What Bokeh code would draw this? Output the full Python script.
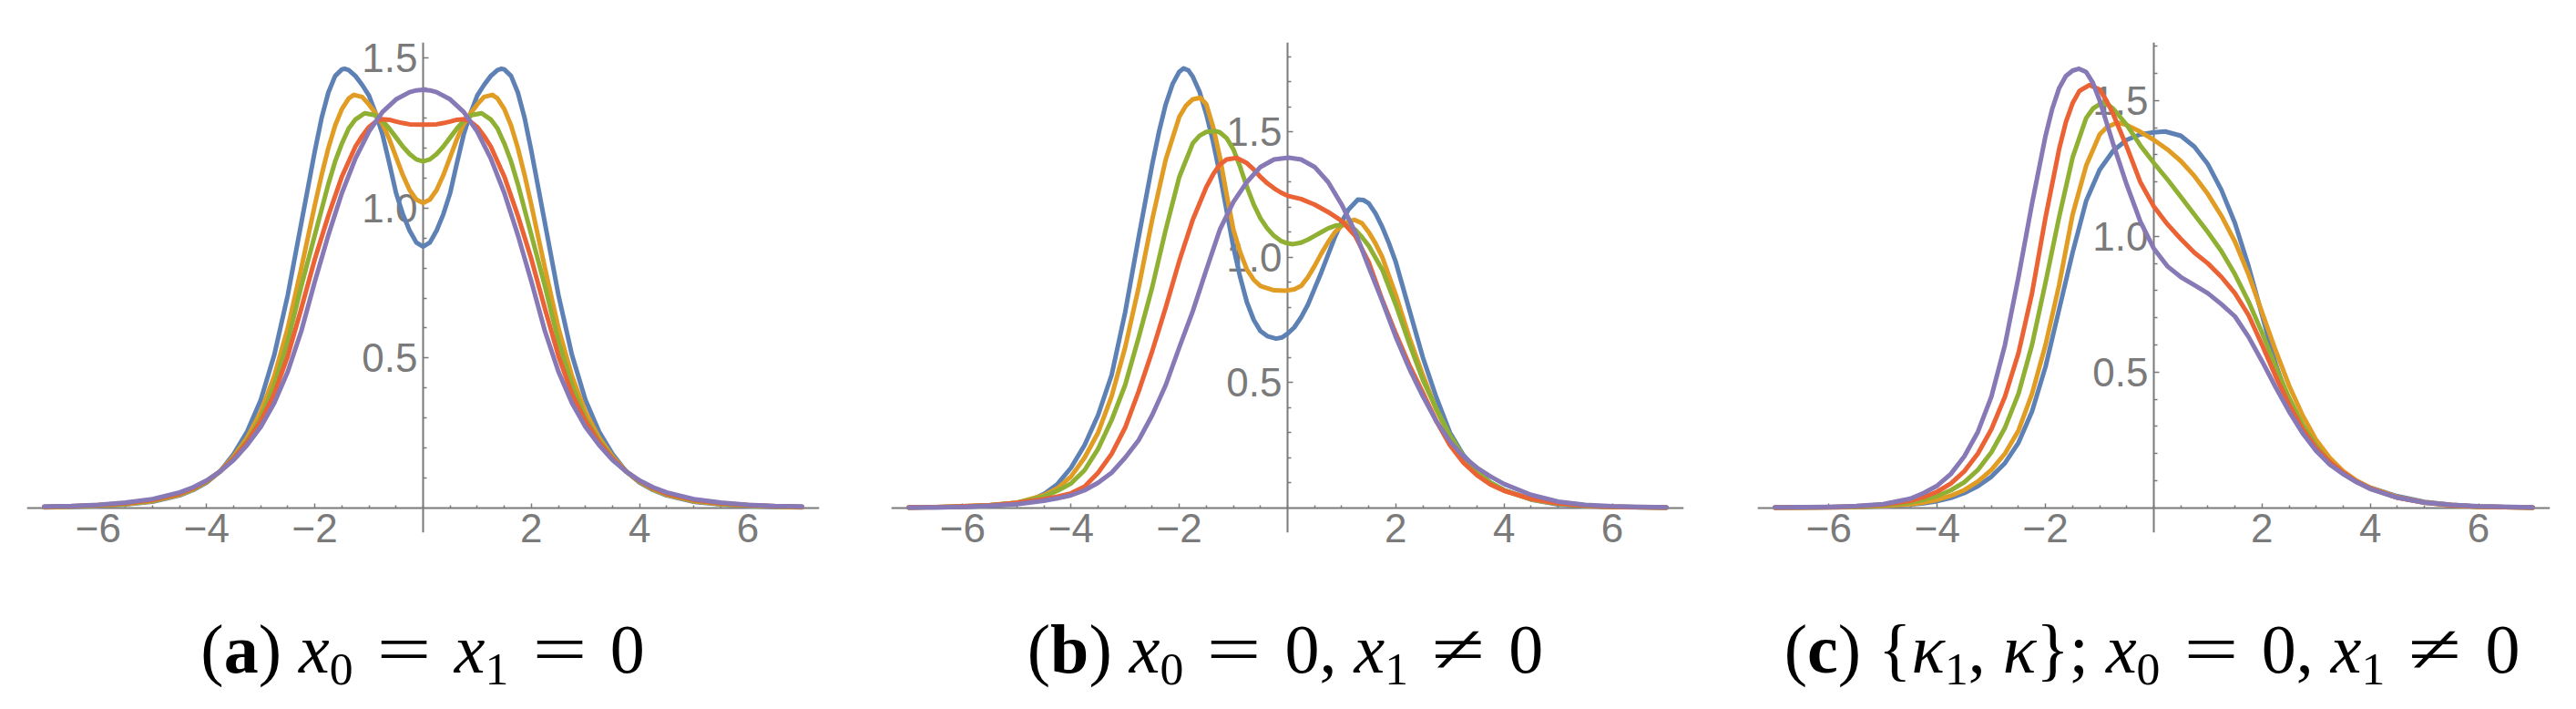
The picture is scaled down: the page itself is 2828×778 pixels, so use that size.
from bokeh.plotting import figure
from bokeh.models import Range1d, FixedTicker, Div, LinearAxis
from bokeh.layouts import row, column
from bokeh.embed import file_html
from bokeh.resources import INLINE

# ---------------- data ----------------
COLORS = ["#5E81B5", "#E19C24", "#8FB032", "#EB6235", "#8778B6"]

X_TICKS = [-6, -4, -2, 2, 4, 6]
X_TICK_LABELS = ["\u22126", "\u22124", "\u22122", "2", "4", "6"]
X_MINOR = [-7, -6.5, -5.5, -5, -4.5, -3.5, -3, -2.5, -1.5, -1, -0.5, 0,
           0.5, 1, 1.5, 2.5, 3, 3.5, 4.5, 5, 5.5, 6.5, 7]
Y_TICKS = [0.5, 1.0, 1.5]
Y_TICK_LABELS = ["0.5", "1.0", "1.5"]
Y_MINOR_A = [0.1, 0.2, 0.3, 0.4, 0.6, 0.7, 0.8, 0.9, 1.1, 1.2, 1.3, 1.4]
Y_MINOR_B = [0.1, 0.2, 0.3, 0.4, 0.6, 0.7, 0.8, 0.9, 1.1, 1.2, 1.3, 1.4, 1.6, 1.7, 1.8]
Y_MINOR_C = [0.1, 0.2, 0.3, 0.4, 0.6, 0.7, 0.8, 0.9, 1.1, 1.2, 1.3, 1.4, 1.6, 1.7]

# panel (a): x0 = x1 = 0  (symmetric curves)
A_BLUE = [(-7, 0.002), (-6.5, 0.004), (-6, 0.007), (-5.5, 0.012), (-5, 0.021), (-4.5, 0.042),
          (-4.25, 0.06), (-4, 0.085), (-3.75, 0.122), (-3.5, 0.18), (-3.25, 0.255), (-3, 0.36),
          (-2.75, 0.51), (-2.5, 0.71), (-2.25, 0.95), (-2, 1.19), (-1.875, 1.3), (-1.75, 1.385),
          (-1.625, 1.44), (-1.5, 1.462), (-1.45, 1.464), (-1.375, 1.46), (-1.25, 1.44),
          (-1.125, 1.41), (-1, 1.375), (-0.875, 1.315), (-0.75, 1.245), (-0.625, 1.15),
          (-0.5, 1.05), (-0.375, 0.98), (-0.25, 0.925), (-0.125, 0.885), (0, 0.871),
          (0.125, 0.885), (0.25, 0.925), (0.375, 0.98), (0.5, 1.05), (0.625, 1.15),
          (0.75, 1.245), (0.875, 1.315), (1, 1.375), (1.125, 1.41), (1.25, 1.44), (1.375, 1.46),
          (1.45, 1.464), (1.5, 1.462), (1.625, 1.44), (1.75, 1.385), (1.875, 1.3), (2, 1.19),
          (2.25, 0.95), (2.5, 0.71), (2.75, 0.51), (3, 0.36), (3.25, 0.255), (3.5, 0.18),
          (3.75, 0.122), (4, 0.085), (4.25, 0.06), (4.5, 0.042), (5, 0.021), (5.5, 0.012),
          (6, 0.007), (6.5, 0.004), (7, 0.002)]
A_ORANGE = [(-7, 0.003), (-6.5, 0.005), (-6, 0.008), (-5.5, 0.013), (-5, 0.023), (-4.5, 0.044),
            (-4.25, 0.062), (-4, 0.087), (-3.75, 0.122), (-3.5, 0.172), (-3.25, 0.235), (-3, 0.32),
            (-2.75, 0.44), (-2.5, 0.6), (-2.25, 0.8), (-2, 1.01), (-1.875, 1.11), (-1.75, 1.2),
            (-1.625, 1.275), (-1.5, 1.33), (-1.375, 1.365), (-1.28, 1.377), (-1.125, 1.37),
            (-1, 1.345), (-0.875, 1.315), (-0.75, 1.28), (-0.625, 1.23), (-0.5, 1.17),
            (-0.375, 1.11), (-0.25, 1.06), (-0.125, 1.028), (0, 1.017), (0.125, 1.028),
            (0.25, 1.06), (0.375, 1.11), (0.5, 1.17), (0.625, 1.23), (0.75, 1.28), (0.875, 1.315),
            (1, 1.345), (1.125, 1.37), (1.28, 1.377), (1.375, 1.365), (1.5, 1.33), (1.625, 1.275),
            (1.75, 1.2), (1.875, 1.11), (2, 1.01), (2.25, 0.8), (2.5, 0.6), (2.75, 0.44),
            (3, 0.32), (3.25, 0.235), (3.5, 0.172), (3.75, 0.122), (4, 0.087), (4.25, 0.062),
            (4.5, 0.044), (5, 0.023), (5.5, 0.013), (6, 0.008), (6.5, 0.005), (7, 0.003)]
A_GREEN = [(-7, 0.003), (-6.5, 0.005), (-6, 0.009), (-5.5, 0.014), (-5, 0.025), (-4.5, 0.046),
           (-4.25, 0.064), (-4, 0.088), (-3.75, 0.122), (-3.5, 0.168), (-3.25, 0.225), (-3, 0.3),
           (-2.75, 0.41), (-2.5, 0.555), (-2.25, 0.74), (-2, 0.91), (-1.75, 1.08), (-1.625, 1.155),
           (-1.5, 1.215), (-1.375, 1.265), (-1.25, 1.295), (-1.08, 1.316), (-0.9, 1.31),
           (-0.75, 1.29), (-0.625, 1.265), (-0.5, 1.235), (-0.375, 1.205), (-0.25, 1.18),
           (-0.125, 1.162), (0, 1.155), (0.125, 1.162), (0.25, 1.18), (0.375, 1.205),
           (0.5, 1.235), (0.625, 1.265), (0.75, 1.29), (0.9, 1.31), (1.08, 1.316), (1.25, 1.295),
           (1.375, 1.265), (1.5, 1.215), (1.625, 1.155), (1.75, 1.08), (2, 0.91), (2.25, 0.74),
           (2.5, 0.555), (2.75, 0.41), (3, 0.3), (3.25, 0.225), (3.5, 0.168), (3.75, 0.122),
           (4, 0.088), (4.25, 0.064), (4.5, 0.046), (5, 0.025), (5.5, 0.014), (6, 0.009),
           (6.5, 0.005), (7, 0.003)]
A_RED = [(-7, 0.004), (-6.5, 0.006), (-6, 0.01), (-5.5, 0.016), (-5, 0.027), (-4.5, 0.048),
         (-4.25, 0.066), (-4, 0.09), (-3.75, 0.122), (-3.5, 0.165), (-3.25, 0.22), (-3, 0.29),
         (-2.75, 0.38), (-2.5, 0.507), (-2.25, 0.665), (-2, 0.83), (-1.75, 0.975), (-1.5, 1.105),
         (-1.25, 1.205), (-1.125, 1.24), (-1, 1.27), (-0.875, 1.288), (-0.77, 1.296),
         (-0.625, 1.294), (-0.5, 1.288), (-0.375, 1.283), (-0.25, 1.279), (0, 1.278),
         (0.25, 1.279), (0.375, 1.283), (0.5, 1.288), (0.625, 1.294), (0.77, 1.296),
         (0.875, 1.288), (1, 1.27), (1.125, 1.24), (1.25, 1.205), (1.5, 1.105), (1.75, 0.975),
         (2, 0.83), (2.25, 0.665), (2.5, 0.507), (2.75, 0.38), (3, 0.29), (3.25, 0.22),
         (3.5, 0.165), (3.75, 0.122), (4, 0.09), (4.25, 0.066), (4.5, 0.048), (5, 0.027),
         (5.5, 0.016), (6, 0.01), (6.5, 0.006), (7, 0.004)]
A_PURPLE = [(-7, 0.005), (-6.5, 0.007), (-6, 0.011), (-5.5, 0.018), (-5, 0.03), (-4.5, 0.052),
            (-4.25, 0.069), (-4, 0.092), (-3.75, 0.122), (-3.5, 0.16), (-3.25, 0.21), (-3, 0.27),
            (-2.75, 0.35), (-2.5, 0.455), (-2.25, 0.59), (-2, 0.755), (-1.75, 0.91), (-1.5, 1.05),
            (-1.25, 1.165), (-1, 1.255), (-0.75, 1.32), (-0.5, 1.362), (-0.25, 1.386),
            (-0.125, 1.392), (0, 1.394), (0.125, 1.392), (0.25, 1.386), (0.5, 1.362),
            (0.75, 1.32), (1, 1.255), (1.25, 1.165), (1.5, 1.05), (1.75, 0.91), (2, 0.755),
            (2.25, 0.59), (2.5, 0.455), (2.75, 0.35), (3, 0.27), (3.25, 0.21), (3.5, 0.16),
            (3.75, 0.122), (4, 0.092), (4.25, 0.069), (4.5, 0.052), (5, 0.03), (5.5, 0.018),
            (6, 0.011), (6.5, 0.007), (7, 0.005)]

# panel (b): x0 = 0, x1 != 0
B_BLUE = [(-7, 0.001), (-6.5, 0.002), (-6, 0.004), (-5.5, 0.008), (-5, 0.018), (-4.75, 0.03),
          (-4.5, 0.055), (-4.25, 0.095), (-4, 0.16), (-3.75, 0.25), (-3.5, 0.37), (-3.25, 0.53),
          (-3, 0.78), (-2.75, 1.08), (-2.5, 1.37), (-2.375, 1.5), (-2.25, 1.61), (-2.125, 1.69),
          (-2, 1.74), (-1.92, 1.753), (-1.83, 1.745), (-1.75, 1.72), (-1.625, 1.66), (-1.5, 1.57),
          (-1.375, 1.46), (-1.25, 1.33), (-1.125, 1.185), (-1, 1.04), (-0.875, 0.92),
          (-0.75, 0.82), (-0.625, 0.75), (-0.5, 0.705), (-0.375, 0.685), (-0.21, 0.675),
          (-0.1, 0.68), (0, 0.695), (0.125, 0.72), (0.25, 0.76), (0.375, 0.81), (0.5, 0.875),
          (0.625, 0.94), (0.75, 1.01), (0.875, 1.08), (1, 1.14), (1.125, 1.19), (1.3, 1.23),
          (1.4, 1.228), (1.5, 1.215), (1.625, 1.175), (1.75, 1.12), (1.875, 1.055), (2, 0.98),
          (2.25, 0.79), (2.5, 0.6), (2.75, 0.44), (3, 0.3), (3.25, 0.21), (3.5, 0.15),
          (3.75, 0.1), (4, 0.071), (4.5, 0.033), (5, 0.014), (5.5, 0.007), (6, 0.003), (7, 0.001)]
B_ORANGE = [(-7, 0.001), (-6.5, 0.003), (-6, 0.005), (-5.5, 0.01), (-5, 0.02), (-4.5, 0.05),
            (-4.25, 0.078), (-4, 0.125), (-3.75, 0.2), (-3.5, 0.3), (-3.25, 0.445), (-3, 0.64),
            (-2.75, 0.88), (-2.5, 1.15), (-2.25, 1.39), (-2, 1.56), (-1.875, 1.605),
            (-1.75, 1.63), (-1.61, 1.636), (-1.5, 1.61), (-1.375, 1.52), (-1.25, 1.4),
            (-1.125, 1.25), (-1, 1.11), (-0.875, 1.02), (-0.75, 0.95), (-0.625, 0.91),
            (-0.5, 0.885), (-0.25, 0.868), (-0.04, 0.866), (0.125, 0.872), (0.25, 0.885),
            (0.375, 0.92), (0.5, 0.965), (0.625, 1.015), (0.75, 1.06), (0.875, 1.1), (1, 1.125),
            (1.125, 1.143), (1.24, 1.149), (1.375, 1.135), (1.5, 1.1), (1.625, 1.055), (1.75, 1.0),
            (2, 0.85), (2.25, 0.68), (2.5, 0.53), (2.75, 0.39), (3, 0.28), (3.25, 0.195),
            (3.5, 0.138), (3.75, 0.097), (4, 0.069), (4.5, 0.034), (5, 0.016), (5.5, 0.008),
            (6, 0.004), (7, 0.001)]
B_GREEN = [(-7, 0.002), (-6.5, 0.003), (-6, 0.006), (-5.5, 0.011), (-5, 0.02), (-4.5, 0.045),
           (-4.25, 0.068), (-4, 0.097), (-3.75, 0.15), (-3.5, 0.235), (-3.25, 0.35), (-3, 0.49),
           (-2.75, 0.68), (-2.5, 0.88), (-2.25, 1.11), (-2, 1.32), (-1.75, 1.455), (-1.625, 1.485),
           (-1.5, 1.5), (-1.33, 1.503), (-1.25, 1.498), (-1.125, 1.475), (-1, 1.43),
           (-0.875, 1.36), (-0.75, 1.28), (-0.625, 1.21), (-0.5, 1.155), (-0.375, 1.115),
           (-0.25, 1.085), (-0.125, 1.065), (0, 1.055), (0.1, 1.052), (0.25, 1.058),
           (0.375, 1.07), (0.5, 1.085), (0.625, 1.1), (0.75, 1.115), (0.875, 1.125), (1.05, 1.13),
           (1.25, 1.11), (1.375, 1.08), (1.5, 1.045), (1.75, 0.95), (2, 0.81), (2.25, 0.655),
           (2.5, 0.51), (2.75, 0.395), (3, 0.29), (3.25, 0.205), (3.5, 0.145), (3.75, 0.1),
           (4, 0.07), (4.5, 0.035), (5, 0.017), (5.5, 0.008), (6, 0.004), (7, 0.001)]
B_RED = [(-7, 0.002), (-6.5, 0.003), (-6, 0.006), (-5.5, 0.01), (-5, 0.02), (-4.5, 0.035),
         (-4.25, 0.045), (-4, 0.058), (-3.75, 0.085), (-3.5, 0.14), (-3.25, 0.215), (-3, 0.32),
         (-2.75, 0.465), (-2.5, 0.625), (-2.25, 0.8), (-2, 0.985), (-1.75, 1.15), (-1.5, 1.28),
         (-1.375, 1.33), (-1.25, 1.37), (-1.125, 1.39), (-0.94, 1.396), (-0.75, 1.375),
         (-0.625, 1.35), (-0.5, 1.32), (-0.375, 1.295), (-0.25, 1.275), (-0.125, 1.258),
         (0, 1.245), (0.25, 1.232), (0.5, 1.21), (0.75, 1.18), (1, 1.145), (1.25, 1.085),
         (1.5, 0.98), (1.75, 0.83), (2, 0.695), (2.25, 0.57), (2.5, 0.46), (2.75, 0.345),
         (3, 0.25), (3.25, 0.18), (3.5, 0.13), (3.75, 0.093), (4, 0.068), (4.5, 0.036),
         (5, 0.018), (5.5, 0.009), (6, 0.004), (7, 0.001)]
B_PURPLE = [(-7, 0.001), (-6.5, 0.002), (-6, 0.004), (-5.5, 0.008), (-5, 0.015), (-4.5, 0.028),
            (-4.25, 0.038), (-4, 0.05), (-3.75, 0.07), (-3.5, 0.1), (-3.25, 0.14), (-3, 0.2),
            (-2.75, 0.27), (-2.5, 0.37), (-2.25, 0.49), (-2, 0.64), (-1.75, 0.785), (-1.5, 0.95),
            (-1.25, 1.11), (-1, 1.22), (-0.75, 1.3), (-0.5, 1.36), (-0.25, 1.39), (0.02, 1.397),
            (0.25, 1.39), (0.5, 1.36), (0.75, 1.3), (1, 1.21), (1.25, 1.1), (1.5, 0.96),
            (1.75, 0.825), (2, 0.682), (2.25, 0.555), (2.5, 0.445), (2.75, 0.345), (3, 0.265),
            (3.25, 0.205), (3.5, 0.16), (3.75, 0.125), (4, 0.095), (4.5, 0.052), (5, 0.025),
            (5.5, 0.012), (6, 0.006), (7, 0.002)]

# panel (c): {kappa1, kappa}; x0 = 0, x1 != 0
C_BLUE = [(-7, 0.001), (-6.5, 0.001), (-6, 0.002), (-5.5, 0.003), (-5, 0.006), (-4.5, 0.012),
          (-4.25, 0.017), (-4, 0.025), (-3.75, 0.037), (-3.5, 0.055), (-3.25, 0.08), (-3, 0.115),
          (-2.75, 0.165), (-2.5, 0.24), (-2.25, 0.355), (-2, 0.52), (-1.75, 0.73), (-1.5, 0.94),
          (-1.25, 1.13), (-1, 1.245), (-0.75, 1.315), (-0.5, 1.355), (-0.25, 1.375), (0, 1.383),
          (0.21, 1.386), (0.5, 1.37), (0.75, 1.33), (1, 1.265), (1.25, 1.17), (1.5, 1.048),
          (1.75, 0.89), (2, 0.71), (2.25, 0.53), (2.5, 0.39), (2.75, 0.28), (3, 0.212),
          (3.25, 0.165), (3.5, 0.125), (3.75, 0.095), (4, 0.075), (4.5, 0.043), (5, 0.022),
          (5.5, 0.011), (6, 0.005), (7, 0.001)]
C_ORANGE = [(-7, 0.001), (-6.5, 0.001), (-6, 0.002), (-5.5, 0.004), (-5, 0.007), (-4.5, 0.014),
            (-4.25, 0.02), (-4, 0.03), (-3.75, 0.045), (-3.5, 0.066), (-3.25, 0.097), (-3, 0.14),
            (-2.75, 0.2), (-2.5, 0.285), (-2.25, 0.42), (-2, 0.6), (-1.75, 0.82), (-1.5, 1.08),
            (-1.25, 1.26), (-1, 1.375), (-0.875, 1.4), (-0.68, 1.419), (-0.5, 1.41),
            (-0.25, 1.385), (0, 1.355), (0.25, 1.32), (0.5, 1.277), (0.75, 1.222), (1, 1.155),
            (1.25, 1.075), (1.5, 0.98), (1.75, 0.86), (2, 0.72), (2.25, 0.58), (2.5, 0.45),
            (2.75, 0.34), (3, 0.25), (3.25, 0.185), (3.5, 0.135), (3.75, 0.1), (4, 0.074),
            (4.5, 0.04), (5, 0.021), (5.5, 0.011), (6, 0.005), (7, 0.001)]
C_GREEN = [(-7, 0.001), (-6.5, 0.002), (-6, 0.003), (-5.5, 0.005), (-5, 0.01), (-4.5, 0.02),
           (-4.25, 0.03), (-4, 0.044), (-3.75, 0.065), (-3.5, 0.095), (-3.25, 0.14), (-3, 0.205),
           (-2.75, 0.295), (-2.5, 0.42), (-2.25, 0.6), (-2, 0.83), (-1.75, 1.07), (-1.5, 1.29),
           (-1.25, 1.435), (-1.125, 1.47), (-0.96, 1.491), (-0.85, 1.485), (-0.75, 1.47),
           (-0.5, 1.41), (-0.25, 1.335), (0, 1.27), (0.25, 1.21), (0.5, 1.145), (0.75, 1.08),
           (1, 1.015), (1.25, 0.945), (1.5, 0.86), (1.75, 0.76), (2, 0.645), (2.25, 0.52),
           (2.5, 0.405), (2.75, 0.305), (3, 0.228), (3.25, 0.17), (3.5, 0.128), (3.75, 0.096),
           (4, 0.071), (4.5, 0.038), (5, 0.02), (5.5, 0.01), (6, 0.005), (7, 0.001)]
C_RED = [(-7, 0.001), (-6.5, 0.002), (-6, 0.003), (-5.5, 0.006), (-5, 0.012), (-4.5, 0.026),
         (-4.25, 0.04), (-4, 0.06), (-3.75, 0.09), (-3.5, 0.135), (-3.25, 0.2), (-3, 0.29),
         (-2.75, 0.41), (-2.5, 0.57), (-2.25, 0.79), (-2, 1.07), (-1.75, 1.32), (-1.625, 1.42),
         (-1.5, 1.49), (-1.375, 1.535), (-1.19, 1.557), (-1, 1.54), (-0.875, 1.5), (-0.75, 1.45),
         (-0.5, 1.33), (-0.25, 1.2), (0, 1.11), (0.25, 1.045), (0.5, 0.99), (0.75, 0.94),
         (1, 0.9), (1.25, 0.85), (1.5, 0.79), (1.75, 0.71), (2, 0.6), (2.25, 0.485), (2.5, 0.38),
         (2.75, 0.29), (3, 0.22), (3.25, 0.17), (3.5, 0.13), (3.75, 0.097), (4, 0.072),
         (4.5, 0.038), (5, 0.02), (5.5, 0.01), (6, 0.005), (7, 0.001)]
C_PURPLE = [(-7, 0.002), (-6.5, 0.003), (-6, 0.004), (-5.5, 0.007), (-5, 0.014), (-4.5, 0.034),
            (-4.25, 0.055), (-4, 0.082), (-3.75, 0.125), (-3.5, 0.19), (-3.25, 0.28), (-3, 0.41),
            (-2.75, 0.6), (-2.5, 0.85), (-2.25, 1.12), (-2, 1.37), (-1.875, 1.47), (-1.75, 1.545),
            (-1.625, 1.59), (-1.5, 1.61), (-1.38, 1.617), (-1.25, 1.605), (-1.125, 1.565),
            (-1, 1.5), (-0.875, 1.42), (-0.75, 1.34), (-0.5, 1.19), (-0.25, 1.055), (0, 0.955),
            (0.25, 0.89), (0.5, 0.85), (0.75, 0.82), (1, 0.79), (1.25, 0.75), (1.5, 0.705),
            (1.75, 0.63), (2, 0.54), (2.25, 0.445), (2.5, 0.355), (2.75, 0.275), (3, 0.21),
            (3.25, 0.16), (3.5, 0.125), (3.75, 0.095), (4, 0.07), (4.5, 0.038), (5, 0.02),
            (5.5, 0.011), (6, 0.006), (7, 0.002)]

X_RANGE = (-7.32, 7.32)
Y_RANGE_A = (-0.082, 1.552)
Y_RANGE_B = (-0.099, 1.857)
Y_RANGE_C = (-0.091, 1.714)

SUB = '<sub style="font-size:0.68em;vertical-align:-0.25em;line-height:0">{}</sub>'
EQ = '<span style="display:inline-block;margin:0 0.45em;transform:scaleX(1.4)">{}</span>'
CAPTION_A = ['(<b>a</b>) <i>x</i>' + SUB.format('0') + EQ.format('=') + '<i>x</i>' + SUB.format('1')
             + EQ.format('=') + '0']
CAPTION_B = ['(<b>b</b>) <i>x</i>' + SUB.format('0') + EQ.format('=') + '0, <i>x</i>' + SUB.format('1')
             + EQ.format('\u2260') + '0']
CAPTION_C = ['(<b>c</b>) {<i>\u03ba</i>' + SUB.format('1') + ', <i>\u03ba</i>}; <i>x</i>' + SUB.format('0')
             + EQ.format('=') + '0, <i>x</i>' + SUB.format('1') + EQ.format('\u2260') + '0']

AXIS_GRAY = "#7a7a7a"
TICK_FONT_SIZE = "44px"
TOP = 46
FRAME_H = 538
BOTTOM = 40
FIG_H = TOP + FRAME_H + BOTTOM


def style_axis(ax):
    ax.axis_line_color = AXIS_GRAY
    ax.axis_line_width = 2
    ax.major_tick_line_color = AXIS_GRAY
    ax.minor_tick_line_color = AXIS_GRAY
    ax.major_tick_line_width = 1.5
    ax.minor_tick_line_width = 1.5
    ax.major_tick_out = 0
    ax.minor_tick_out = 0
    ax.major_label_text_font = "Liberation Sans"
    ax.major_label_text_font_size = TICK_FONT_SIZE
    ax.major_label_text_color = AXIS_GRAY


def make_panel(series, y_range, y_minor, width, border_left, border_right):
    p = figure(width=width, height=FIG_H, x_range=Range1d(*X_RANGE), y_range=Range1d(*y_range),
               output_backend="svg", toolbar_location=None,
               min_border_left=border_left, min_border_right=border_right,
               min_border_top=TOP, min_border_bottom=BOTTOM)
    p.outline_line_color = None
    p.grid.visible = False
    p.background_fill_color = "white"
    p.border_fill_color = "white"
    for pts, col in zip(series, COLORS):
        p.line([q[0] for q in pts], [q[1] for q in pts], line_color=col, line_width=5,
               line_join="round", line_cap="round")

    # x axis at y = 0: line and ticks under the curves
    xa = p.xaxis[0]
    style_axis(xa)
    xa.level = "underlay"
    xa.fixed_location = 0
    xa.ticker = FixedTicker(ticks=X_TICKS, minor_ticks=X_MINOR)
    xa.major_label_text_color = None
    xa.major_tick_in = 5
    xa.minor_tick_in = 3

    # x tick labels: a label-only axis on the frame edge, pulled up under y = 0
    xl = LinearAxis(ticker=FixedTicker(ticks=X_TICKS, minor_ticks=[]))
    style_axis(xl)
    xl.axis_line_color = None
    xl.major_tick_line_color = None
    xl.minor_tick_line_color = None
    xl.major_tick_in = 0
    xl.major_label_overrides = dict(zip(X_TICKS, X_TICK_LABELS))
    xl.major_label_standoff = -21
    p.add_layout(xl, "below")

    # y axis at x = 0
    ya = p.yaxis[0]
    style_axis(ya)
    ya.level = "underlay"
    ya.fixed_location = 0
    ya.ticker = FixedTicker(ticks=Y_TICKS, minor_ticks=y_minor)
    ya.major_label_overrides = dict(zip(Y_TICKS, Y_TICK_LABELS))
    ya.major_tick_in = 6
    ya.minor_tick_in = 4
    ya.major_label_standoff = 6
    return p


def make_caption(html, width, pad_left, pad_right):
    inner = ('<div style="box-sizing:border-box;width:%dpx;padding:%dpx %dpx 0 %dpx;'
             'text-align:center;white-space:nowrap;font-family:\'Liberation Serif\';'
             'font-size:76px;line-height:100px;color:#000">%s</div>'
             % (width, 737 - FIG_H - 75, pad_right, pad_left, html))
    return Div(text=inner, width=width, height=778 - FIG_H, margin=(0, 0, 0, 0))


pa = make_panel([A_BLUE, A_ORANGE, A_GREEN, A_RED, A_PURPLE], Y_RANGE_A, Y_MINOR_A, 939, 29, 40)
pb = make_panel([B_BLUE, B_ORANGE, B_GREEN, B_RED, B_PURPLE], Y_RANGE_B, Y_MINOR_B, 949, 39, 40)
pc = make_panel([C_BLUE, C_ORANGE, C_GREEN, C_RED, C_PURPLE], Y_RANGE_C, Y_MINOR_C, 940, 41, 29)

ca = make_caption(CAPTION_A[0], 939, 0, 11)
cb = make_caption(CAPTION_B[0], 949, 0, 5)
cc = make_caption(CAPTION_C[0], 940, 9, 0)

layout = row(column(pa, ca, spacing=0), column(pb, cb, spacing=0), column(pc, cc, spacing=0), spacing=0)

open("out.html", "w").write(file_html(layout, INLINE))
